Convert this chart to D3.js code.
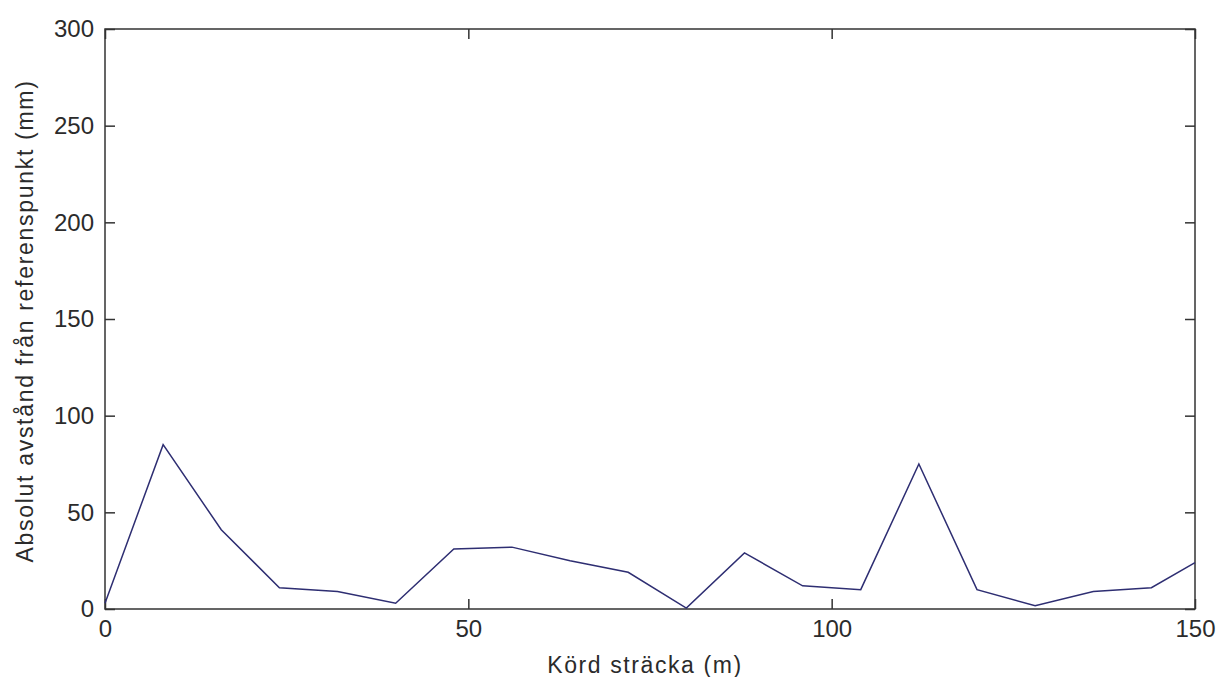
<!DOCTYPE html>
<html>
<head>
<meta charset="utf-8">
<script src="https://cdn.jsdelivr.net/npm/d3@7"></script>
<style>
  body { margin: 0; background: #fff; }
  text { font-family: "Liberation Sans", Arial, sans-serif; fill: #2b2b2b; }
</style>
</head>
<body>
<div id="chart"></div>
<script>
// Data
var distance = [0, 8, 16, 24, 32, 40, 48, 56, 64, 72, 80, 88, 96, 104, 112, 120, 128, 136, 144, 150];
var offset   = [3, 85, 41, 11, 9, 3, 31, 32, 25, 19, 0.5, 29, 12, 10, 75, 10, 1.7, 9, 11, 24];
var xTicks = [0, 50, 100, 150];
var yTicks = [0, 50, 100, 150, 200, 250, 300];
var xLabel = "Körd sträcka (m)";
var yLabel = "Absolut avstånd från referenspunkt (mm)";

var W = 1216, H = 677;
var margin = {top: 29, right: 21, bottom: 68, left: 105};
var width = W - margin.left - margin.right;
var height = H - margin.top - margin.bottom;
var tickLen = 10;
var axisColor = "#333";

var svg = d3.select("#chart").append("svg")
    .attr("width", W)
    .attr("height", H);

var g = svg.append("g")
    .attr("transform", "translate(" + margin.left + "," + margin.top + ")");

var x = d3.scaleLinear().domain([0, 150]).range([0, width]);
var y = d3.scaleLinear().domain([0, 300]).range([height, 0]);

// Box
g.append("rect")
    .attr("width", width)
    .attr("height", height)
    .attr("fill", "none")
    .attr("stroke", axisColor)
    .attr("stroke-width", 1.5);

// Bottom axis (labels, inward ticks)
var xAxis = g.append("g")
    .attr("transform", "translate(0," + height + ")")
    .call(d3.axisBottom(x).tickValues(xTicks).tickSize(-tickLen).tickPadding(11).tickFormat(d3.format("d")));
// Top ticks
var xAxisTop = g.append("g")
    .call(d3.axisTop(x).tickValues(xTicks).tickSize(-tickLen).tickFormat(""));
// Left axis
var yAxis = g.append("g")
    .call(d3.axisLeft(y).tickValues(yTicks).tickSize(-tickLen).tickPadding(11).tickFormat(d3.format("d")));
// Right ticks
var yAxisRight = g.append("g")
    .attr("transform", "translate(" + width + ",0)")
    .call(d3.axisRight(y).tickValues(yTicks).tickSize(-tickLen).tickFormat(""));

[xAxis, xAxisTop, yAxis, yAxisRight].forEach(function(a) {
    a.select(".domain").remove();
    a.selectAll(".tick line").attr("stroke", axisColor).attr("stroke-width", 1.5);
    a.selectAll(".tick text")
        .style("font-family", "'Liberation Sans', Arial, sans-serif")
        .style("font-size", "24px")
        .attr("fill", "#2b2b2b");
});

// Line
var valueline = d3.line()
    .x(function(d, i) { return x(distance[i]); })
    .y(function(d) { return y(d); });

g.append("path")
    .attr("fill", "none")
    .attr("stroke", "#2e2e72")
    .attr("stroke-width", 1.5)
    .attr("d", valueline(offset));

// Axis titles
svg.append("text")
    .attr("x", 645)
    .attr("y", 673)
    .attr("text-anchor", "middle")
    .style("font-size", "23px")
    .style("letter-spacing", "1.6px")
    .text(xLabel);

svg.append("text")
    .attr("transform", "translate(33," + (margin.top + height / 2 + 2) + ") rotate(-90)")
    .attr("text-anchor", "middle")
    .style("font-size", "23px")
    .style("letter-spacing", "1.7px")
    .text(yLabel);
</script>
</body>
</html>
